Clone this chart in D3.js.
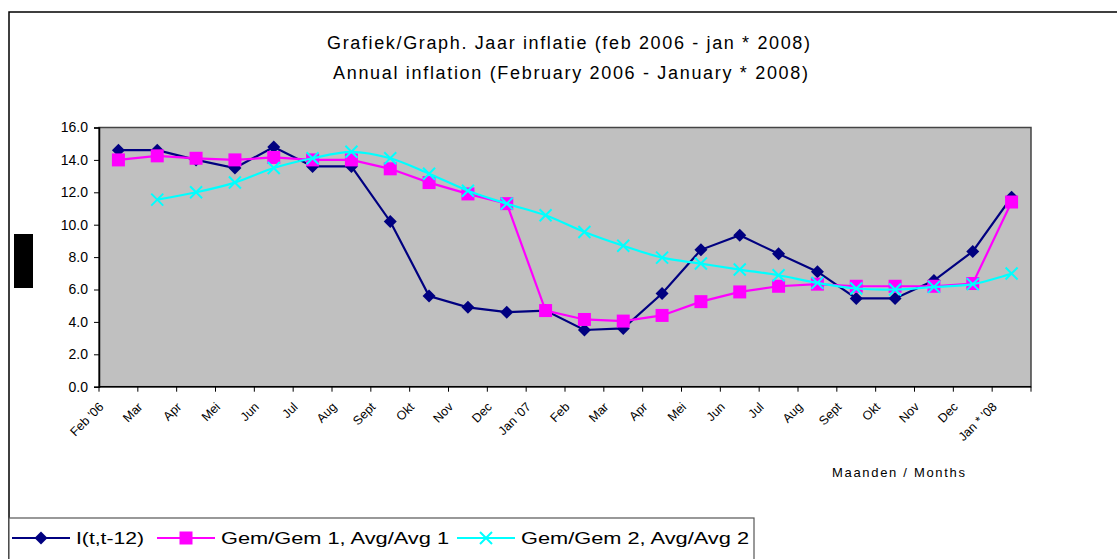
<!DOCTYPE html>
<html>
<head>
<meta charset="utf-8">
<script src="https://cdn.jsdelivr.net/npm/d3@7"></script>
<style>
  body { margin: 0; background: #fff; }
  text { font-family: "Liberation Sans", Arial, sans-serif; }
</style>
</head>
<body>
<div id="chart"></div>
<script>
// categories (months)
const months = [
  "Feb '06", 'Mar', 'Apr', 'Mei', 'Jun', 'Jul', 'Aug', 'Sept', 'Okt', 'Nov', 'Dec',
  "Jan '07", 'Feb', 'Mar', 'Apr', 'Mei', 'Jun', 'Jul', 'Aug', 'Sept', 'Okt', 'Nov', 'Dec',
  "Jan * '08"
];

// I(t,t-12)
const inflation = [
  14.6, 14.6, 14.0, 13.5, 14.8, 13.6, 13.6, 10.2, 5.6, 4.9, 4.6,
  4.7, 3.5, 3.6, 5.75, 8.45, 9.35, 8.2, 7.1, 5.45, 5.45, 6.55, 8.35,
  11.7
];

// Gem/Gem 1, Avg/Avg 1
const avg1 = [
  14.0, 14.25, 14.1, 14.0, 14.15, 14.0, 14.0, 13.45, 12.6, 11.9, 11.3,
  4.7, 4.15, 4.05, 4.4, 5.25, 5.85, 6.2, 6.33, 6.2, 6.2, 6.2, 6.37,
  11.4
];

// Gem/Gem 2, Avg/Avg 2 (no value for Feb '06)
const avg2 = [
  null, 11.55, 12.0, 12.6, 13.5, 14.1, 14.5, 14.1, 13.15, 12.1, 11.3,
  10.58, 9.55, 8.7, 7.97, 7.6, 7.23, 6.88, 6.41, 6.06, 6.0, 6.16, 6.33,
  6.99
];

const yTicks = [0, 2, 4, 6, 8, 10, 12, 14, 16];

const width = 1117;
const height = 559;

const plot = { left: 99, right: 1031, top: 127.5, bottom: 386.7 };

const svg = d3
  .select('#chart')
  .append('svg')
  .attr('width', width)
  .attr('height', height);

// outer chart frame
svg
  .append('rect')
  .attr('x', 9)
  .attr('y', 12)
  .attr('width', width + 20)
  .attr('height', height + 20)
  .attr('fill', '#fff')
  .attr('stroke', '#000')
  .attr('stroke-width', 1.5);

// titles
svg
  .append('text')
  .attr('x', 327)
  .attr('y', 49)
  .attr('font-size', 18)
  .attr('textLength', 483)
  .attr('lengthAdjust', 'spacing')
  .text('Grafiek/Graph.  Jaar inflatie (feb 2006 - jan * 2008)');

svg
  .append('text')
  .attr('x', 333)
  .attr('y', 79)
  .attr('font-size', 18)
  .attr('textLength', 475)
  .attr('lengthAdjust', 'spacing')
  .text('Annual inflation (February 2006 - January * 2008)');

/* scales */
const x = d3
  .scaleBand()
  .domain(d3.range(months.length))
  .range([plot.left, plot.right]);

const y = d3
  .scaleLinear()
  .domain([0, 16])
  .range([plot.bottom, plot.top]);

const cx = i => x(i) + x.bandwidth() / 2;

/* plot area */
svg
  .append('rect')
  .attr('x', plot.left)
  .attr('y', plot.top)
  .attr('width', plot.right - plot.left)
  .attr('height', plot.bottom - plot.top)
  .attr('fill', '#c0c0c0')
  .attr('stroke', '#444')
  .attr('stroke-width', 1.5);

// y axis
const yAxis = svg
  .append('g')
  .attr('transform', `translate(${plot.left},0)`)
  .call(
    d3
      .axisLeft(y)
      .tickValues(yTicks)
      .tickFormat(d3.format('.1f'))
      .tickSize(5)
      .tickPadding(6)
  );
yAxis.select('.domain').attr('stroke', '#000').attr('stroke-width', 1.5);
yAxis
  .selectAll('text')
  .attr('font-size', 14)
  .attr('font-family', '"Liberation Sans", Arial, sans-serif')
  .attr('fill', '#000');

// x axis: ticks between categories
const xAxis = svg.append('g');
xAxis
  .append('line')
  .attr('x1', plot.left)
  .attr('x2', plot.right)
  .attr('y1', plot.bottom)
  .attr('y2', plot.bottom)
  .attr('stroke', '#000')
  .attr('stroke-width', 1.5);
xAxis
  .selectAll('line.tick')
  .data(d3.range(months.length + 1))
  .enter()
  .append('line')
  .attr('class', 'tick')
  .attr('x1', d => (d < months.length ? x(d) : plot.right))
  .attr('x2', d => (d < months.length ? x(d) : plot.right))
  .attr('y1', plot.bottom)
  .attr('y2', plot.bottom + 5)
  .attr('stroke', '#000');
xAxis
  .selectAll('text')
  .data(months)
  .enter()
  .append('text')
  .attr('font-size', 12.5)
  .attr('text-anchor', 'end')
  .attr('transform', (_d, i) => `translate(${cx(i) - 14},${plot.bottom + 21}) rotate(-45)`)
  .text(d => d);

svg
  .append('text')
  .attr('x', 832)
  .attr('y', 477)
  .attr('font-size', 13)
  .attr('textLength', 133)
  .attr('lengthAdjust', 'spacing')
  .text('Maanden / Months');

// y axis title (rendered as a solid block in the original)
svg
  .append('rect')
  .attr('x', 14)
  .attr('y', 234)
  .attr('width', 19)
  .attr('height', 54)
  .attr('fill', '#000');

/* series */
const series = [
  { name: 'I(t,t-12)', values: inflation, color: '#000080', marker: 'diamond', curve: d3.curveLinear },
  { name: 'Gem/Gem 1, Avg/Avg 1', values: avg1, color: '#ff00ff', marker: 'square', curve: d3.curveLinear },
  { name: 'Gem/Gem 2, Avg/Avg 2', values: avg2, color: '#00ffff', marker: 'cross', curve: d3.curveCatmullRom }
];

function drawMarker(g, type, color) {
  if (type === 'diamond') {
    g.append('path')
      .attr('d', 'M0,-6.5L6.5,0L0,6.5L-6.5,0Z')
      .attr('fill', color);
  } else if (type === 'square') {
    g.append('rect')
      .attr('x', -6.5)
      .attr('y', -6.5)
      .attr('width', 13)
      .attr('height', 13)
      .attr('fill', color);
  } else {
    g.append('path')
      .attr('d', 'M-6,-6L6,6M-6,6L6,-6')
      .attr('stroke', color)
      .attr('stroke-width', 2)
      .attr('fill', 'none');
  }
}

series.forEach(s => {
  const pts = s.values
    .map((v, i) => ({ i, v }))
    .filter(d => d.v !== null);

  const line = d3
    .line()
    .x(d => cx(d.i))
    .y(d => y(d.v))
    .curve(s.curve);

  svg
    .append('path')
    .datum(pts)
    .attr('d', line)
    .attr('fill', 'none')
    .attr('stroke', s.color)
    .attr('stroke-width', 2.2);

  svg
    .append('g')
    .selectAll('g')
    .data(pts)
    .enter()
    .append('g')
    .attr('transform', d => `translate(${cx(d.i)},${y(d.v)})`)
    .each(function() {
      drawMarker(d3.select(this), s.marker, s.color);
    });
});

/* legend */
const legend = svg.append('g');
legend
  .append('rect')
  .attr('x', 9)
  .attr('y', 518)
  .attr('width', 745)
  .attr('height', 60)
  .attr('fill', '#fff')
  .attr('stroke', '#555')
  .attr('stroke-width', 1.2);

const legendX = [12, 157, 457];
const legendY = 538;
series.forEach((s, k) => {
  const lx = legendX[k];
  legend
    .append('line')
    .attr('x1', lx)
    .attr('x2', lx + 58)
    .attr('y1', legendY)
    .attr('y2', legendY)
    .attr('stroke', s.color)
    .attr('stroke-width', 2.2);
  const m = legend.append('g').attr('transform', `translate(${lx + 29},${legendY})`);
  drawMarker(m, s.marker, s.color);
  legend
    .append('text')
    .attr('x', lx + 64)
    .attr('y', legendY + 6)
    .attr('font-size', 17)
    .attr('textLength', k === 0 ? 68 : 228)
    .attr('lengthAdjust', 'spacingAndGlyphs')
    .text(s.name);
});
</script>
</body>
</html>
